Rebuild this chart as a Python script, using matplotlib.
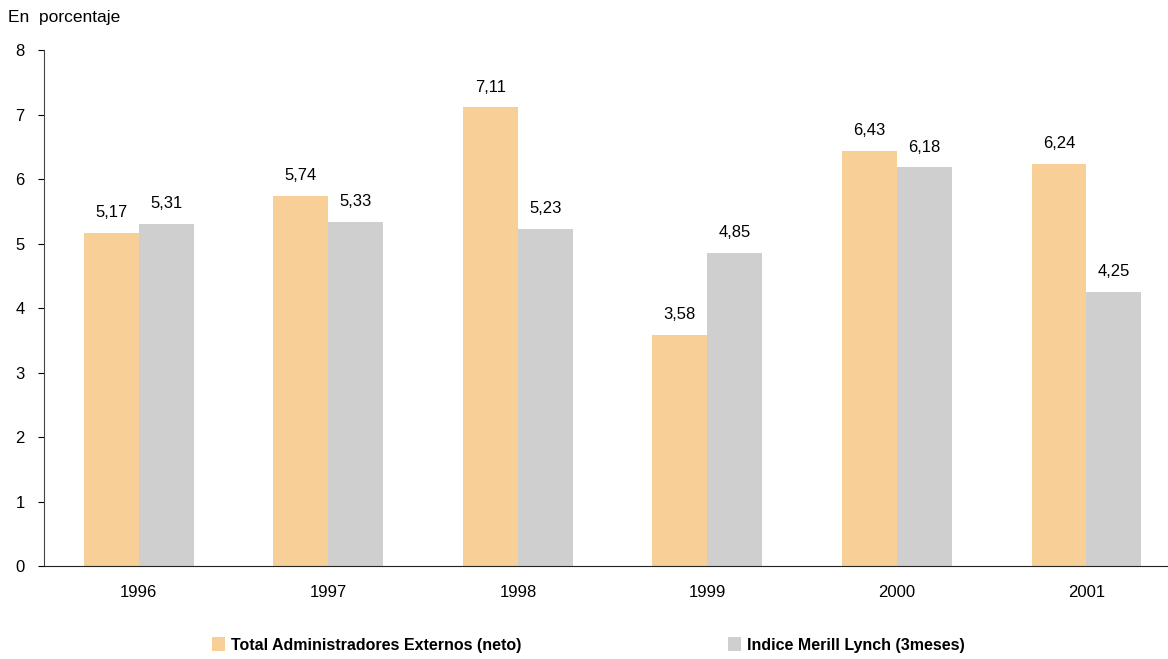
import matplotlib.pyplot as plt
import numpy as np

plt.rcParams['font.family'] = ['Liberation Sans', 'DejaVu Sans']

# Data
years = ['1996', '1997', '1998', '1999', '2000', '2001']
externos = [5.17, 5.74, 7.11, 3.58, 6.43, 6.24]
merrill = [5.31, 5.33, 5.23, 4.85, 6.18, 4.25]
series_names = ['Total Administradores Externos (neto)', 'Indice Merill Lynch (3meses)']

x = np.arange(len(years))
w = 0.29

fig = plt.figure(figsize=(11.68, 6.59), dpi=100)
ax = fig.add_axes([0.0377, 0.141, 0.9623, 0.783])

b1 = ax.bar(x - w / 2, externos, width=w, color='#F9CF98', label=series_names[0])
b2 = ax.bar(x + w / 2, merrill, width=w, color='#CFCFCF', label=series_names[1])

# value labels above each bar, decimal comma
for bars, vals in [(b1, externos), (b2, merrill)]:
    for bar, v in zip(bars, vals):
        ax.text(bar.get_x() + bar.get_width() / 2, v + 0.2, f"{v:.2f}".replace('.', ','),
                ha='center', va='bottom', fontsize=12)

ax.set_xlim(-0.5, 5.43)
ax.set_ylim(0, 8)
ax.set_yticks(range(0, 9))
ax.set_xticks(x, years)
ax.tick_params(axis='x', length=0, pad=13.5, labelsize=12)
ax.tick_params(axis='y', length=4, direction='out', pad=10, labelsize=12)
for s in ['top', 'right']:
    ax.spines[s].set_visible(False)
ax.spines['left'].set_color('#444444')
ax.spines['bottom'].set_color('#222222')

fig.text(0.007, 0.973, 'En  porcentaje', fontsize=12.5, va='center', ha='left')

fig.legend(handles=[b1, b2], loc='center left', bbox_to_anchor=(0.169, 0.021),
           ncol=2, frameon=False, handlelength=0.8, handleheight=0.95,
           handletextpad=0.4, columnspacing=12.95,
           prop={'family': ['Liberation Sans'], 'weight': 'bold', 'size': 11.5})

fig.savefig('out.png', dpi=100)
